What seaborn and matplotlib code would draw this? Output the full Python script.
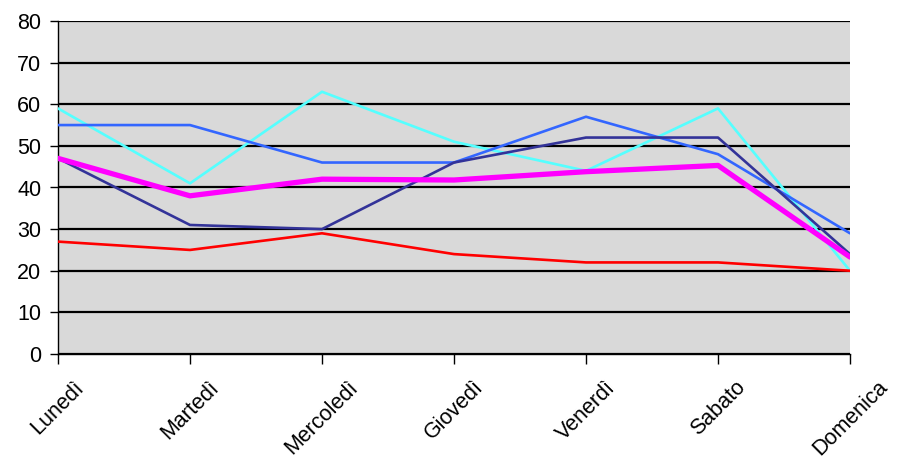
import matplotlib.pyplot as plt
import pandas as pd
import seaborn as sns

# -------------------------------------------------------
# data
giorni = ['Lunedì', 'Martedì', 'Mercoledì', 'Giovedì', 'Venerdì', 'Sabato', 'Domenica']
serie_cyan = [59, 41, 63, 51, 44, 59, 20]
serie_blu = [55, 55, 46, 46, 57, 48, 29]
serie_navy = [47, 31, 30, 46, 52, 52, 24]
serie_rossa = [27, 25, 29, 24, 22, 22, 20]
serie_media = [47, 38, 42, 41.8, 43.8, 45.3, 23.3]

nomi = ['cyan', 'blu', 'navy', 'rossa', 'media']
colori = {'cyan': '#55FFFF', 'blu': '#3366FF', 'navy': '#333399',
          'rossa': '#FF0000', 'media': '#FF00FF'}
spessori = {'cyan': 1.9, 'blu': 1.9, 'navy': 1.9, 'rossa': 1.9, 'media': 3.8}

df = pd.DataFrame({'giorno': giorni, 'cyan': serie_cyan, 'blu': serie_blu,
                   'navy': serie_navy, 'rossa': serie_rossa, 'media': serie_media})
df['pos'] = range(len(giorni))
df = df.melt(id_vars=['giorno', 'pos'], value_vars=nomi, var_name='serie', value_name='valore')

# -------------------------------------------------------
# chart
sns.set_style('white')
plt.rcParams['font.family'] = ['Liberation Sans', 'DejaVu Sans']

fig = plt.figure(figsize=(8.97, 4.61), dpi=100)
ax = fig.add_axes([58 / 897, 1 - 354 / 461, (850 - 58) / 897, (354 - 21) / 461])
ax.set_facecolor('#D9D9D9')

for nome in nomi:
    sns.lineplot(data=df[df['serie'] == nome], x='pos', y='valore', color=colori[nome],
                 linewidth=spessori[nome], ax=ax, legend=False, zorder=3)

ax.set_xlim(0, len(giorni) - 1)
ax.set_ylim(0, 80)
ax.set_yticks(range(0, 81, 10))
ax.set_xticks(range(len(giorni)))
ax.set_xticklabels(giorni, rotation=45, ha='center', va='top')
ax.set_xlabel('')
ax.set_ylabel('')

ax.grid(axis='y', color='black', linewidth=1.6, zorder=1)
ax.grid(axis='x', visible=False)
ax.set_axisbelow(True)

for lato in ['top', 'right']:
    ax.spines[lato].set_visible(False)
for lato in ['left', 'bottom']:
    ax.spines[lato].set_color('black')
    ax.spines[lato].set_linewidth(1.0)

ax.tick_params(axis='both', direction='out', width=1, color='black',
               labelsize=15.5, labelcolor='black', left=True, bottom=True)
ax.tick_params(axis='y', length=6, pad=6)
ax.tick_params(axis='x', length=7.5, pad=9)

fig.savefig('out.png', dpi=100)
